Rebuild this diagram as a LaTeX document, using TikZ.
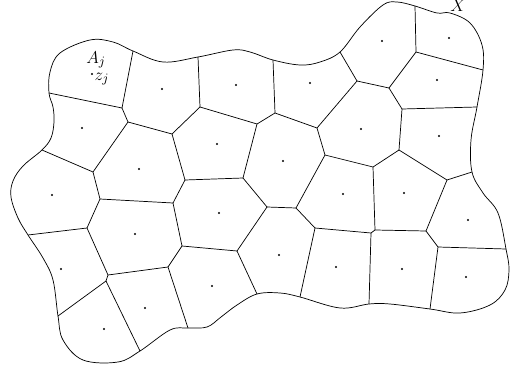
\documentclass[tikz,border=0pt]{standalone}
\usetikzlibrary{positioning}
\begin{document}
\begin{tikzpicture}[
        x=0.7pt, y=-0.7pt,
        wall/.style={line width=0.5pt},
        site/.style={circle, fill, inner sep=0pt, minimum size=1.7pt},
        lbl/.style={inner sep=1pt, font=\fontsize{13}{15}\selectfont}
    ]
    \useasboundingbox (0,0) rectangle (511,370);

    % Rand van X
    \draw[wall] plot[smooth cycle, tension=0.6] coordinates {
        (49,93) (50,72) (60,53) (90,40) (113,42) (133,51) (163,62) (198,57)
        (233,50) (250,52) (273,60) (300,65) (320,62) (340,52) (360,27) (383,5)
        (397,2) (415,6) (437,13) (450,13) (470,23) (482,45) (483,70) (477,107)
        (471,140) (472,172) (483,193) (498,213) (506,249) (509,270) (505,290)
        (490,305) (460,313) (430,309) (390,304) (369,304) (340,308) (300,297)
        (280,293) (257,294) (237,305) (221,317) (207,327) (188,328) (170,330)
        (140,351) (118,362) (83,360) (63,340) (58,316) (53,280) (43,258)
        (28,235) (18,218) (11,197) (13,181) (23,166) (42,150) (51,138)
        (54,122) (53,107)};

    % Randpunten
    \coordinate (b1) at (49,93);
    \coordinate (b2) at (133,51);
    \coordinate (b3) at (42,150);
    \coordinate (b4) at (198,57);
    \coordinate (b5) at (273,60);
    \coordinate (b6) at (340,52);
    \coordinate (b7) at (415,6);
    \coordinate (b8) at (483,70);
    \coordinate (b9) at (477,107);
    \coordinate (b10) at (472,172);
    \coordinate (b11) at (506,249);
    \coordinate (b12) at (430,309);
    \coordinate (b13) at (369,304);
    \coordinate (b14) at (300,297);
    \coordinate (b15) at (257,294);
    \coordinate (b16) at (188,328);
    \coordinate (b17) at (140,351);
    \coordinate (b18) at (58,316);
    \coordinate (b19) at (28,235);

    % Hoekpunten
    \coordinate (v1) at (122,108);
    \coordinate (v2) at (128,122);
    \coordinate (v3) at (93,172);
    \coordinate (v4) at (172,134);
    \coordinate (v5) at (200,107);
    \coordinate (v6) at (257,124);
    \coordinate (v7) at (275,113);
    \coordinate (v8) at (243,178);
    \coordinate (v9) at (185,180);
    \coordinate (v10) at (173,203);
    \coordinate (v11) at (100,199);
    \coordinate (v12) at (87,228);
    \coordinate (v13) at (182,246);
    \coordinate (v14) at (168,267);
    \coordinate (v15) at (108,275);
    \coordinate (v16) at (106,281);
    \coordinate (v17) at (237,251);
    \coordinate (v18) at (267,207);
    \coordinate (v19) at (296,208);
    \coordinate (v21) at (317,128);
    \coordinate (v22) at (357,81);
    \coordinate (v23) at (389,88);
    \coordinate (v24) at (416,52);
    \coordinate (v25) at (402,109);
    \coordinate (v26) at (399,150);
    \coordinate (v27) at (373,167);
    \coordinate (v28) at (325,155);
    \coordinate (v29) at (315,228);
    \coordinate (v30) at (371,233);
    \coordinate (v31) at (375,230);
    \coordinate (v32) at (426,231);
    \coordinate (v33) at (438,247);
    \coordinate (v34) at (447,180);

    % Celwanden
    \foreach \p/\q in {b1/v1, b2/v1, b3/v3, b4/v5, b5/v7, b6/v22, b7/v24, b8/v24,
        b9/v25, b10/v34, b11/v33, b12/v33, b13/v30, b14/v29, b15/v17, b16/v14,
        b17/v16, b18/v16, b19/v12}
        \draw[wall] (\p) -- (\q);
    \foreach \p/\q in {v1/v2, v2/v4, v2/v3, v3/v11, v4/v5, v4/v9, v5/v6, v6/v7,
        v6/v8, v8/v9, v8/v18, v9/v10, v10/v11, v11/v12, v12/v15, v15/v16,
        v15/v14, v10/v13, v13/v14, v13/v17, v17/v18, v18/v19, v7/v21, v21/v22,
        v22/v23, v23/v24, v23/v25, v25/v26, v26/v27, v26/v34, v21/v28, v28/v27,
        v28/v19, v19/v29, v29/v30, v30/v31, v31/v27, v31/v32, v32/v34, v32/v33}
        \draw[wall] (\p) -- (\q);

    % Punten z
    \foreach \pos [count=\i] in {(92,74), (162,89), (236,85), (310,83), (382,41),
        (449,38), (82,128), (139,169), (217,144), (283,161), (361,129), (437,80),
        (439,136), (52,195), (135,234), (219,213), (343,194), (404,193),
        (468,220), (61,269), (145,308), (212,286), (279,255), (336,267),
        (402,269), (466,277), (104,329)}
        \node[site] (z\i) at \pos {};

    % Labels
    \node[lbl] (Aj) at (96,60) {$A_j$};
    \node[lbl] (zj) at (102,79) {$z_j$};
    \node[lbl] (X) at (458,6) {$X$};
\end{tikzpicture}
\end{document}
